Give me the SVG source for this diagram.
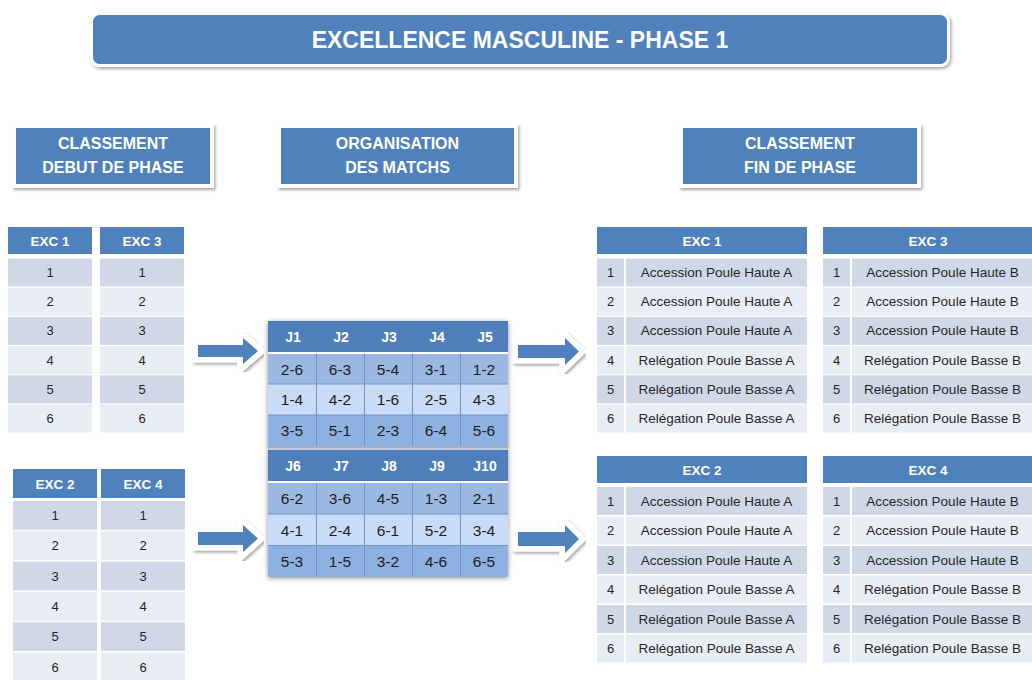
<svg xmlns="http://www.w3.org/2000/svg" width="1032" height="680" viewBox="0 0 1032 680">
<defs>
<filter id="sh" x="-10%" y="-20%" width="120%" height="150%">
<feDropShadow dx="1.5" dy="2" stdDeviation="1.8" flood-color="#000" flood-opacity="0.35"/>
</filter>
<filter id="sh2" x="-10%" y="-10%" width="120%" height="120%">
<feDropShadow dx="0" dy="1" stdDeviation="2.5" flood-color="#000" flood-opacity="0.45"/>
</filter>
</defs>
<style>
text{font-family:'Liberation Sans',Arial,sans-serif}
.box{fill:#4f81bd;stroke:#fff;stroke-width:4;filter:url(#sh)}
.bt{font-weight:bold;fill:#fff;font-size:16px;text-anchor:middle}
.hdr{fill:#4f81bd}
.r1{fill:#d0d8e8}
.r2{fill:#e9edf4}
.th{font-weight:bold;fill:#fff;font-size:13.5px;text-anchor:middle}
.tn{font-size:13px;fill:#262626;text-anchor:middle}
.tl{font-size:13.5px;fill:#262626;text-anchor:middle}
.arrow{fill:#4f81bd;stroke:#fff;stroke-width:11;paint-order:stroke;filter:url(#sh)}
.mh{fill:#4f7fbb}
.m1{fill:#9bb8e2}
.m2{fill:#c8dbf8}
.m3{fill:#8db1e1}
.ml{stroke:#6e96cd;stroke-width:1}
.mt{font-size:15.5px;fill:#1e1e1e;text-anchor:middle}
.mj{font-weight:bold;font-size:14px;fill:#fff;text-anchor:middle}
</style>
<rect width="1032" height="680" fill="#fff"/>

<g id="title">
<rect x="91.5" y="13.5" width="857" height="52" rx="8" fill="#4f81bd" stroke="#fff" stroke-width="3" filter="url(#sh)"/>
<text x="520" y="48" font-size="23" font-weight="bold" fill="#fff" text-anchor="middle">EXCELLENCE MASCULINE - PHASE 1</text>
</g>

<g id="head-debut">
<rect class="box" x="14" y="126" width="198" height="60"/>
<text class="bt" x="113" y="149">CLASSEMENT</text>
<text class="bt" x="113" y="173">DEBUT DE PHASE</text>
</g>
<g id="head-organisation">
<rect class="box" x="279" y="126" width="237" height="60"/>
<text class="bt" x="397.5" y="149">ORGANISATION</text>
<text class="bt" x="397.5" y="173">DES MATCHS</text>
</g>
<g id="head-fin">
<rect class="box" x="681" y="126" width="238" height="60"/>
<text class="bt" x="800" y="149">CLASSEMENT</text>
<text class="bt" x="800" y="173">FIN DE PHASE</text>
</g>

<g id="debut-exc1">
<rect class="hdr" x="8" y="227" width="84" height="27"/>
<text class="th" x="50" y="245.5">EXC 1</text>
<rect class="r1" x="8" y="258.5" width="84" height="28"/><text class="tn" x="50" y="277">1</text>
<rect class="r2" x="8" y="287.7" width="84" height="28"/><text class="tn" x="50" y="306.2">2</text>
<rect class="r1" x="8" y="316.9" width="84" height="28"/><text class="tn" x="50" y="335.4">3</text>
<rect class="r2" x="8" y="346.1" width="84" height="28"/><text class="tn" x="50" y="364.6">4</text>
<rect class="r1" x="8" y="375.3" width="84" height="28"/><text class="tn" x="50" y="393.8">5</text>
<rect class="r2" x="8" y="404.5" width="84" height="28"/><text class="tn" x="50" y="423">6</text>
</g>
<g id="debut-exc3">
<rect class="hdr" x="100" y="227" width="84" height="27"/>
<text class="th" x="142" y="245.5">EXC 3</text>
<rect class="r1" x="100" y="258.5" width="84" height="28"/><text class="tn" x="142" y="277">1</text>
<rect class="r2" x="100" y="287.7" width="84" height="28"/><text class="tn" x="142" y="306.2">2</text>
<rect class="r1" x="100" y="316.9" width="84" height="28"/><text class="tn" x="142" y="335.4">3</text>
<rect class="r2" x="100" y="346.1" width="84" height="28"/><text class="tn" x="142" y="364.6">4</text>
<rect class="r1" x="100" y="375.3" width="84" height="28"/><text class="tn" x="142" y="393.8">5</text>
<rect class="r2" x="100" y="404.5" width="84" height="28"/><text class="tn" x="142" y="423">6</text>
</g>
<g id="debut-exc2">
<rect class="hdr" x="13" y="469" width="84" height="29"/>
<text class="th" x="55" y="488.5">EXC 2</text>
<rect class="r1" x="13" y="501" width="84" height="28.8"/><text class="tn" x="55" y="520">1</text>
<rect class="r2" x="13" y="531.3" width="84" height="28.8"/><text class="tn" x="55" y="550.3">2</text>
<rect class="r1" x="13" y="561.6" width="84" height="28.8"/><text class="tn" x="55" y="580.6">3</text>
<rect class="r2" x="13" y="591.9" width="84" height="28.8"/><text class="tn" x="55" y="610.9">4</text>
<rect class="r1" x="13" y="622.2" width="84" height="28.8"/><text class="tn" x="55" y="641.2">5</text>
<rect class="r2" x="13" y="652.5" width="84" height="28.8"/><text class="tn" x="55" y="671.5">6</text>
</g>
<g id="debut-exc4">
<rect class="hdr" x="101" y="469" width="84" height="29"/>
<text class="th" x="143" y="488.5">EXC 4</text>
<rect class="r1" x="101" y="501" width="84" height="28.8"/><text class="tn" x="143" y="520">1</text>
<rect class="r2" x="101" y="531.3" width="84" height="28.8"/><text class="tn" x="143" y="550.3">2</text>
<rect class="r1" x="101" y="561.6" width="84" height="28.8"/><text class="tn" x="143" y="580.6">3</text>
<rect class="r2" x="101" y="591.9" width="84" height="28.8"/><text class="tn" x="143" y="610.9">4</text>
<rect class="r1" x="101" y="622.2" width="84" height="28.8"/><text class="tn" x="143" y="641.2">5</text>
<rect class="r2" x="101" y="652.5" width="84" height="28.8"/><text class="tn" x="143" y="671.5">6</text>
</g>

<g id="matchs">
<rect x="268" y="321" width="240" height="256" fill="#c3cbd8" filter="url(#sh2)"/>
<rect class="mh" x="268" y="321" width="240" height="31"/>
<rect x="268" y="352" width="240" height="2" fill="#fff"/>
<rect class="m1" x="268" y="354" width="240" height="30"/>
<rect class="m2" x="268" y="384" width="240" height="31"/>
<rect class="m3" x="268" y="415" width="240" height="31"/>
<rect class="mh" x="268" y="450" width="240" height="31"/>
<rect x="268" y="481" width="240" height="2" fill="#fff"/>
<rect class="m1" x="268" y="483" width="240" height="31"/>
<rect class="m2" x="268" y="514" width="240" height="31.5"/>
<rect class="m3" x="268" y="545.5" width="240" height="31.5"/>
<g class="ml">
<line x1="268" y1="384" x2="508" y2="384"/><line x1="268" y1="415" x2="508" y2="415"/>
<line x1="268" y1="514" x2="508" y2="514"/><line x1="268" y1="545.5" x2="508" y2="545.5"/>
<line x1="316.5" y1="354" x2="316.5" y2="446"/><line x1="364.5" y1="354" x2="364.5" y2="446"/>
<line x1="412.5" y1="354" x2="412.5" y2="446"/><line x1="460.5" y1="354" x2="460.5" y2="446"/>
<line x1="316.5" y1="483" x2="316.5" y2="577"/><line x1="364.5" y1="483" x2="364.5" y2="577"/>
<line x1="412.5" y1="483" x2="412.5" y2="577"/><line x1="460.5" y1="483" x2="460.5" y2="577"/>
</g>
<line x1="268" y1="447" x2="508" y2="447" stroke="#9aa6b8" stroke-width="1.5"/>
<text class="mj" x="293" y="341.5">J1</text><text class="mj" x="341" y="341.5">J2</text><text class="mj" x="389" y="341.5">J3</text><text class="mj" x="437" y="341.5">J4</text><text class="mj" x="485" y="341.5">J5</text>
<text class="mt" x="292" y="374.5">2-6</text><text class="mt" x="340" y="374.5">6-3</text><text class="mt" x="388" y="374.5">5-4</text><text class="mt" x="436" y="374.5">3-1</text><text class="mt" x="484" y="374.5">1-2</text>
<text class="mt" x="292" y="405">1-4</text><text class="mt" x="340" y="405">4-2</text><text class="mt" x="388" y="405">1-6</text><text class="mt" x="436" y="405">2-5</text><text class="mt" x="484" y="405">4-3</text>
<text class="mt" x="292" y="436">3-5</text><text class="mt" x="340" y="436">5-1</text><text class="mt" x="388" y="436">2-3</text><text class="mt" x="436" y="436">6-4</text><text class="mt" x="484" y="436">5-6</text>
<text class="mj" x="293" y="470.5">J6</text><text class="mj" x="341" y="470.5">J7</text><text class="mj" x="389" y="470.5">J8</text><text class="mj" x="437" y="470.5">J9</text><text class="mj" x="485" y="470.5">J10</text>
<text class="mt" x="292" y="504">6-2</text><text class="mt" x="340" y="504">3-6</text><text class="mt" x="388" y="504">4-5</text><text class="mt" x="436" y="504">1-3</text><text class="mt" x="484" y="504">2-1</text>
<text class="mt" x="292" y="535.5">4-1</text><text class="mt" x="340" y="535.5">2-4</text><text class="mt" x="388" y="535.5">6-1</text><text class="mt" x="436" y="535.5">5-2</text><text class="mt" x="484" y="535.5">3-4</text>
<text class="mt" x="292" y="566.5">5-3</text><text class="mt" x="340" y="566.5">1-5</text><text class="mt" x="388" y="566.5">3-2</text><text class="mt" x="436" y="566.5">4-6</text><text class="mt" x="484" y="566.5">6-5</text>
</g>

<g id="fin-exc1">
<rect class="hdr" x="597" y="227" width="210" height="27"/>
<text class="th" x="702" y="245.5">EXC 1</text>
<rect class="r1" x="597" y="258.5" width="27" height="28"/><rect class="r1" x="626" y="258.5" width="181" height="28"/>
<text class="tn" x="610.5" y="277">1</text><text class="tl" x="716.5" y="277">Accession Poule Haute A</text>
<rect class="r2" x="597" y="287.7" width="27" height="28"/><rect class="r2" x="626" y="287.7" width="181" height="28"/>
<text class="tn" x="610.5" y="306.2">2</text><text class="tl" x="716.5" y="306.2">Accession Poule Haute A</text>
<rect class="r1" x="597" y="316.9" width="27" height="28"/><rect class="r1" x="626" y="316.9" width="181" height="28"/>
<text class="tn" x="610.5" y="335.4">3</text><text class="tl" x="716.5" y="335.4">Accession Poule Haute A</text>
<rect class="r2" x="597" y="346.1" width="27" height="28"/><rect class="r2" x="626" y="346.1" width="181" height="28"/>
<text class="tn" x="610.5" y="364.6">4</text><text class="tl" x="716.5" y="364.6">Relégation Poule Basse A</text>
<rect class="r1" x="597" y="375.3" width="27" height="28"/><rect class="r1" x="626" y="375.3" width="181" height="28"/>
<text class="tn" x="610.5" y="393.8">5</text><text class="tl" x="716.5" y="393.8">Relégation Poule Basse A</text>
<rect class="r2" x="597" y="404.5" width="27" height="28"/><rect class="r2" x="626" y="404.5" width="181" height="28"/>
<text class="tn" x="610.5" y="423">6</text><text class="tl" x="716.5" y="423">Relégation Poule Basse A</text>
</g>
<g id="fin-exc3">
<rect class="hdr" x="823" y="227" width="210" height="27"/>
<text class="th" x="928" y="245.5">EXC 3</text>
<rect class="r1" x="823" y="258.5" width="27" height="28"/><rect class="r1" x="852" y="258.5" width="181" height="28"/>
<text class="tn" x="836.5" y="277">1</text><text class="tl" x="942.5" y="277">Accession Poule Haute B</text>
<rect class="r2" x="823" y="287.7" width="27" height="28"/><rect class="r2" x="852" y="287.7" width="181" height="28"/>
<text class="tn" x="836.5" y="306.2">2</text><text class="tl" x="942.5" y="306.2">Accession Poule Haute B</text>
<rect class="r1" x="823" y="316.9" width="27" height="28"/><rect class="r1" x="852" y="316.9" width="181" height="28"/>
<text class="tn" x="836.5" y="335.4">3</text><text class="tl" x="942.5" y="335.4">Accession Poule Haute B</text>
<rect class="r2" x="823" y="346.1" width="27" height="28"/><rect class="r2" x="852" y="346.1" width="181" height="28"/>
<text class="tn" x="836.5" y="364.6">4</text><text class="tl" x="942.5" y="364.6">Relégation Poule Basse B</text>
<rect class="r1" x="823" y="375.3" width="27" height="28"/><rect class="r1" x="852" y="375.3" width="181" height="28"/>
<text class="tn" x="836.5" y="393.8">5</text><text class="tl" x="942.5" y="393.8">Relégation Poule Basse B</text>
<rect class="r2" x="823" y="404.5" width="27" height="28"/><rect class="r2" x="852" y="404.5" width="181" height="28"/>
<text class="tn" x="836.5" y="423">6</text><text class="tl" x="942.5" y="423">Relégation Poule Basse B</text>
</g>
<g id="fin-exc2">
<rect class="hdr" x="597" y="456" width="210" height="27"/>
<text class="th" x="702" y="474.5">EXC 2</text>
<rect class="r1" x="597" y="487" width="27" height="28"/><rect class="r1" x="626" y="487" width="181" height="28"/>
<text class="tn" x="610.5" y="505.5">1</text><text class="tl" x="716.5" y="505.5">Accession Poule Haute A</text>
<rect class="r2" x="597" y="516.5" width="27" height="28"/><rect class="r2" x="626" y="516.5" width="181" height="28"/>
<text class="tn" x="610.5" y="535">2</text><text class="tl" x="716.5" y="535">Accession Poule Haute A</text>
<rect class="r1" x="597" y="546" width="27" height="28"/><rect class="r1" x="626" y="546" width="181" height="28"/>
<text class="tn" x="610.5" y="564.5">3</text><text class="tl" x="716.5" y="564.5">Accession Poule Haute A</text>
<rect class="r2" x="597" y="575.5" width="27" height="28"/><rect class="r2" x="626" y="575.5" width="181" height="28"/>
<text class="tn" x="610.5" y="594">4</text><text class="tl" x="716.5" y="594">Relégation Poule Basse A</text>
<rect class="r1" x="597" y="605" width="27" height="28"/><rect class="r1" x="626" y="605" width="181" height="28"/>
<text class="tn" x="610.5" y="623.5">5</text><text class="tl" x="716.5" y="623.5">Relégation Poule Basse A</text>
<rect class="r2" x="597" y="634.5" width="27" height="28"/><rect class="r2" x="626" y="634.5" width="181" height="28"/>
<text class="tn" x="610.5" y="653">6</text><text class="tl" x="716.5" y="653">Relégation Poule Basse A</text>
</g>
<g id="fin-exc4">
<rect class="hdr" x="823" y="456" width="210" height="27"/>
<text class="th" x="928" y="474.5">EXC 4</text>
<rect class="r1" x="823" y="487" width="27" height="28"/><rect class="r1" x="852" y="487" width="181" height="28"/>
<text class="tn" x="836.5" y="505.5">1</text><text class="tl" x="942.5" y="505.5">Accession Poule Haute B</text>
<rect class="r2" x="823" y="516.5" width="27" height="28"/><rect class="r2" x="852" y="516.5" width="181" height="28"/>
<text class="tn" x="836.5" y="535">2</text><text class="tl" x="942.5" y="535">Accession Poule Haute B</text>
<rect class="r1" x="823" y="546" width="27" height="28"/><rect class="r1" x="852" y="546" width="181" height="28"/>
<text class="tn" x="836.5" y="564.5">3</text><text class="tl" x="942.5" y="564.5">Accession Poule Haute B</text>
<rect class="r2" x="823" y="575.5" width="27" height="28"/><rect class="r2" x="852" y="575.5" width="181" height="28"/>
<text class="tn" x="836.5" y="594">4</text><text class="tl" x="942.5" y="594">Relégation Poule Basse B</text>
<rect class="r1" x="823" y="605" width="27" height="28"/><rect class="r1" x="852" y="605" width="181" height="28"/>
<text class="tn" x="836.5" y="623.5">5</text><text class="tl" x="942.5" y="623.5">Relégation Poule Basse B</text>
<rect class="r2" x="823" y="634.5" width="27" height="28"/><rect class="r2" x="852" y="634.5" width="181" height="28"/>
<text class="tn" x="836.5" y="653">6</text><text class="tl" x="942.5" y="653">Relégation Poule Basse B</text>
</g>

<g id="connectors">
<path class="arrow" d="M198,345 H243 V338 L258,351 L243,364 V357 H198 Z"/>
<path class="arrow" d="M198,532 H243 V525 L258,538.5 L243,552 V545 H198 Z"/>
<path class="arrow" d="M518,345 H565 V338 L579,351.5 L565,365 V358 H518 Z"/>
<path class="arrow" d="M518,532 H565 V525 L579,539 L565,553 V546 H518 Z"/>
</g>
</svg>
